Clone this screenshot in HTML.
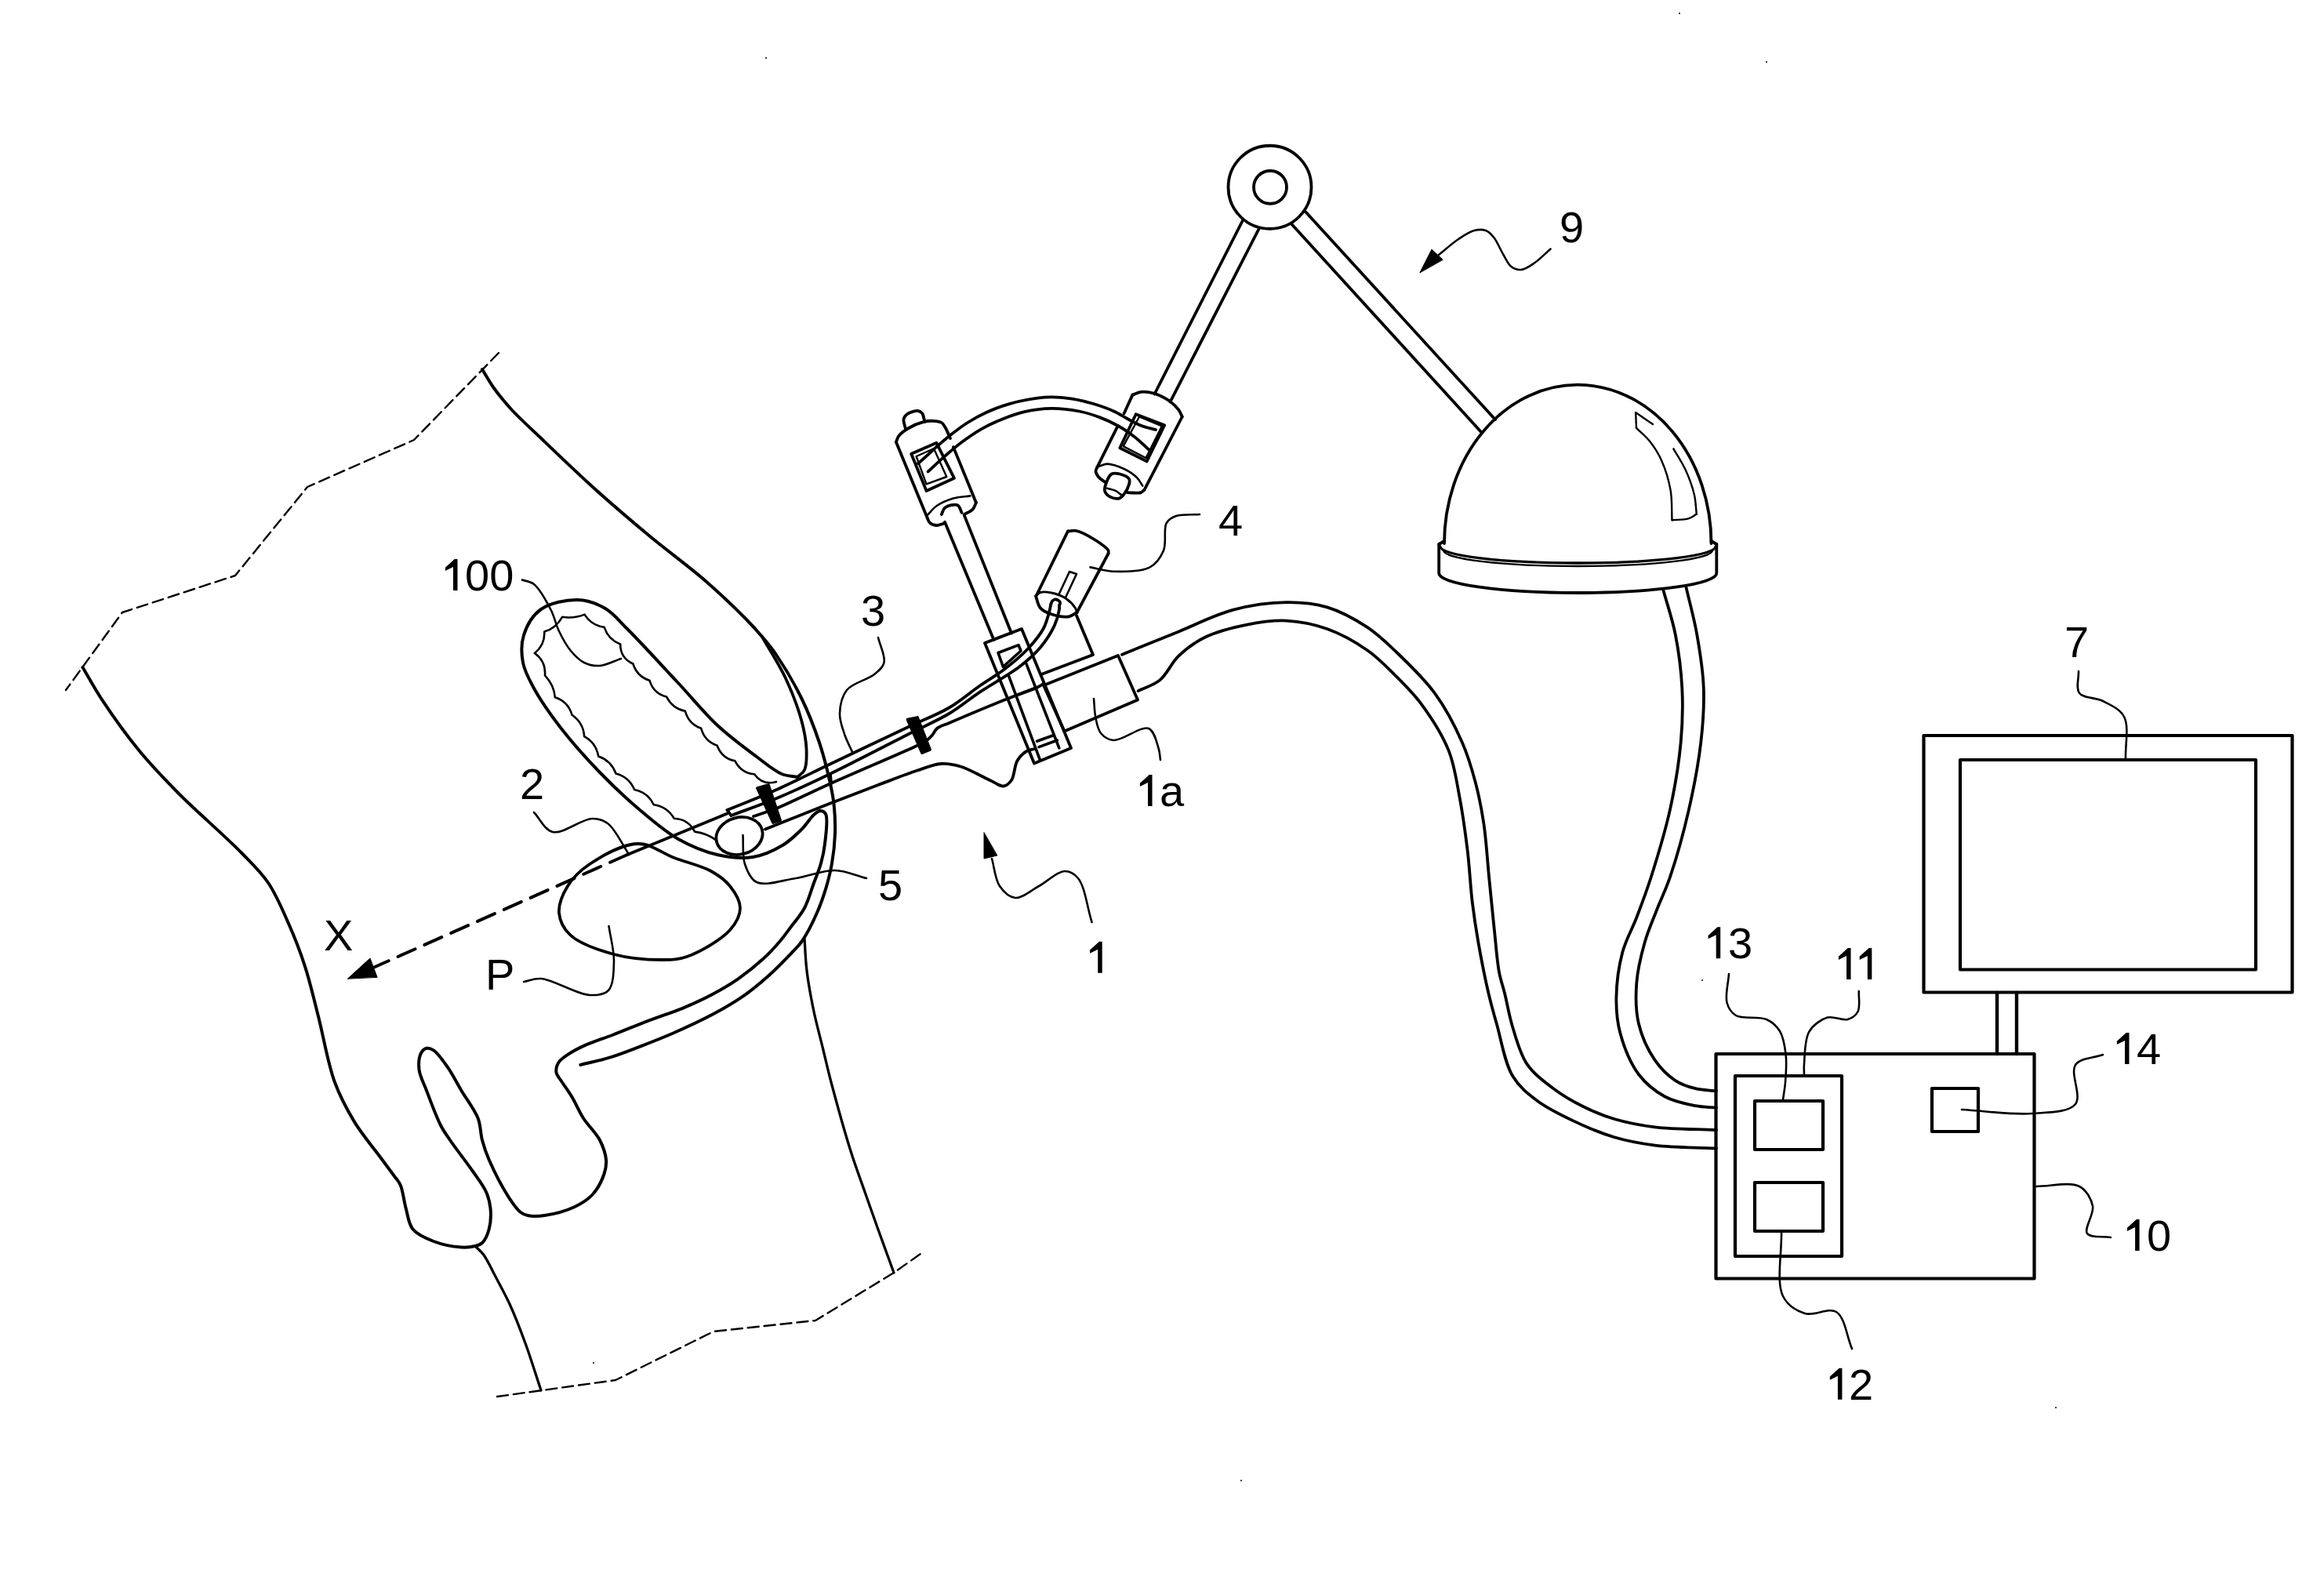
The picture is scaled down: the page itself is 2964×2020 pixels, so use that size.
<!DOCTYPE html>
<html><head><meta charset="utf-8"><style>
html,body{margin:0;padding:0;background:#fff;width:2964px;height:2020px;overflow:hidden}
svg{display:block}
text{font-family:"Liberation Sans",sans-serif;fill:#000;stroke:none}
</style></head><body>
<svg xmlns="http://www.w3.org/2000/svg" width="2964" height="2020" viewBox="0 0 2964 2020">
<g fill="none" stroke="#000" stroke-linecap="round" stroke-linejoin="round">
<path d="M636 450 L528 561 L392 621 L300 734 L156 781 L84 880" stroke-width="2.4" stroke-dasharray="14 7"/>
<path d="M634 1781 L785 1760 L910 1698 L1040 1684 L1140 1623 L1174 1599" stroke-width="2.4" stroke-dasharray="14 7"/>
<path d="M615 471C620 479 624.2 486.9 630 495C636.6 504.2 644.3 513.5 653 523C663 533.8 673.6 543.2 687 556C706.1 574.3 733.3 600.6 757 622C780.6 643.3 804.9 664 829 684C852.6 703.6 878.5 722.3 900 741C919 757.6 938.9 776.7 952 790C960.4 798.6 965.6 804.5 972 812C978.3 819.5 983.5 825.4 990 835C999.6 849.2 1012.8 871.2 1022 890C1031.1 908.5 1038.8 928.6 1045 947C1050.5 963.5 1054.8 980.8 1058 995C1060.5 1006.1 1062.3 1014.4 1063.5 1025C1064.8 1036.9 1065.4 1050.3 1065 1063C1064.6 1075.7 1063.1 1089 1061 1101C1059.1 1112.1 1056.5 1122.2 1053.4 1132.6C1050.2 1143.2 1046.7 1153.3 1042 1164C1036.8 1175.8 1028.9 1191.4 1023 1200C1019.3 1205.5 1016.9 1207.3 1012.3 1212.3C1004.5 1220.6 991 1234.6 980 1244.5C969.5 1253.9 959.3 1262.4 947.8 1270.4C935.7 1278.8 923 1286.1 909 1293.6C893.2 1302 873.6 1311 857.5 1318C843.7 1324 831.7 1328.6 818.7 1333.6C805.8 1338.5 793.1 1343.7 780 1347.8C767 1351.9 753.6 1354.6 740.4 1358" stroke-width="4"/>
<path d="M972 812C982 829.7 993.6 847 1002 865C1010.1 882.4 1017.5 901.7 1022 918C1025.6 931.3 1028 943.6 1028.5 955C1028.9 964.7 1028.9 975.7 1026 982C1024 986.3 1020 988 1017 991" stroke-width="3.8"/>
<path d="M1017 991C1010.3 989.7 1004.1 990 997 987C987.2 982.9 976.7 973.7 965 965C950 953.9 931.1 940 915 925C897.7 908.9 882.8 890.1 865 871C844.8 849.4 817.4 819.3 800 802C788.9 791 782.6 782.2 772 776C761.6 769.9 749.6 765.3 737 765C722.5 764.6 701.7 768.7 690 777C679.4 784.5 671.7 798.3 668 810C664.5 821 664.9 833.9 667 845C669 855.9 673.9 864.7 680 876C688.3 891.5 701.7 910.7 715 928C729.7 947 747.9 967.3 765 985C781.3 1001.8 797.9 1017.6 815 1032C831.3 1045.8 847.6 1060.2 865 1070C881.1 1079.1 898.5 1086.2 915 1090C930.1 1093.4 945.9 1095.2 960 1093C973.5 1090.9 987.1 1084.5 998 1078C1007.7 1072.2 1016 1064 1023 1057C1028.9 1051 1033.5 1042.9 1038 1039C1040.9 1036.5 1043.4 1034.1 1046 1034C1048.4 1034 1051.5 1035.2 1053 1038C1056.4 1044 1053.3 1064.7 1052 1076C1051 1085.3 1049.3 1092.8 1047 1101C1044.7 1109.4 1041.2 1117.2 1038 1126C1034.3 1136 1031.2 1148.3 1026 1158C1021.1 1167.2 1013.6 1175.5 1008 1183C1003.4 1189.2 1000.1 1194.1 995 1200C988.9 1207.2 981.8 1215.1 973.6 1222.6C964.2 1231.2 952.4 1240.7 941.4 1248.4C930.9 1255.7 920.5 1261.7 909.1 1267.8C896.9 1274.3 883.7 1280.3 870.4 1285.8C856.7 1291.5 842.3 1295.8 827.8 1301.3C812.5 1307.1 795.3 1314.5 781 1320C768.9 1324.6 757.5 1327.9 747.5 1332.4C739 1336.2 730.8 1340.4 724.5 1344.7C719.5 1348.1 714.5 1351.2 712 1355.4C709.9 1359 708.9 1363.9 709.5 1367.7C710.1 1371.5 713.1 1374.2 715.7 1378.3C719.4 1384.2 725.3 1391.9 729.8 1399.5C734.7 1407.7 738.4 1417.3 744 1426C750 1435.4 760.1 1444.5 765 1454C769.2 1462.2 772.3 1471.3 773 1479C773.6 1485.4 772.6 1490.7 770.5 1497C767.8 1505.1 762.4 1515.9 756 1523C749.8 1529.8 742.1 1534.7 733 1539C722.2 1544.1 705.6 1548.4 694.5 1550C686.4 1551.1 678.5 1551.2 673 1550C669.3 1549.2 667 1548.3 664 1546C659.4 1542.5 655 1536.2 650 1528.6C642.1 1516.6 629.8 1492.9 623.7 1479C619.5 1469.4 617.3 1462.7 615 1454C612.6 1445 613.3 1435.5 609.6 1426C605.2 1414.5 595.1 1402 588.4 1390.7C582.2 1380.3 577 1369.6 570.7 1360.7C565.1 1352.7 558.4 1343 553 1339.4C549.8 1337.3 546.7 1336.2 544 1336.8C541.3 1337.4 538.6 1339.9 537 1343C534.6 1347.7 533.7 1356.7 534.5 1364C535.5 1372.5 540.2 1380.7 544 1390.7C548.9 1403.7 556.1 1423.5 562 1435C566 1442.9 569 1446.6 574 1454C581.3 1464.8 594.3 1481.1 602.5 1493C609.2 1502.7 616.1 1511.3 620 1520C623.2 1527.2 624.8 1533.5 625.5 1541C626.3 1549.3 625.8 1559.8 623.7 1567.5C621.9 1574.1 618.7 1581.5 615 1585C612.4 1587.5 609.6 1588.1 606 1589C601.1 1590.3 595 1590.9 588 1590.5C578.2 1589.9 563.6 1587.1 553 1583C543.2 1579.2 532.4 1574.8 526.5 1567.5C520.9 1560.6 520.3 1550.2 517.7 1541C515 1531.4 513.9 1518.3 510.6 1511C508.5 1506.2 506.1 1504.3 503 1500C498.5 1493.7 492.6 1486 486 1477C476.6 1464.2 461.9 1446.9 452 1430.6C442.2 1414.5 434 1399.3 426.8 1379.8C417.9 1355.5 412.5 1321.2 405.7 1295C399.9 1272.4 395.4 1252 388.8 1231.8C382.6 1212.7 375.5 1194.6 367.6 1176.8C359.9 1159.3 352.4 1141.1 342.2 1126C332.5 1111.7 322.5 1102.5 308.4 1088C287.7 1066.6 251.4 1035.7 228 1012C208.8 992.5 193.3 976.5 177.3 957C160.9 937 143.6 912.7 130.8 893.4C120.6 878.1 113.9 865.1 105.4 851" stroke-width="4"/>
<path d="M606 1589C609.6 1592.7 613.1 1595.2 616.7 1600C621.8 1606.9 626.8 1618.1 632 1628C637.8 1639 644.1 1650.1 650 1663C656.9 1678 663.6 1695.5 670 1713C677 1732 683.3 1753 690 1773" stroke-width="3.3"/>
<path d="M1026 1197C1027 1210.7 1027.2 1223.6 1029 1238C1031 1254.4 1034.5 1273.3 1038 1290C1041.3 1305.6 1045.3 1320 1049 1335C1052.7 1350 1055.4 1362.6 1060 1380C1066.5 1404.5 1077 1442.6 1085 1468C1091.2 1487.7 1097.1 1503 1103 1520C1108.7 1536.3 1114.1 1551.5 1120 1568C1126.4 1585.7 1133.3 1604.7 1140 1623" stroke-width="3.3"/>
<path d="M814 1076C830.4 1075.8 844.5 1088.2 860 1094C875.5 1099.9 894.4 1104 907 1111C916.9 1116.5 924.8 1122.2 931 1130C937.2 1137.8 944 1148.7 944 1158C944 1167.3 938.7 1177.3 931 1186C919.8 1198.6 892.3 1214.2 876 1220C864.7 1224 857.1 1223.9 845 1224C827.9 1224.1 802.7 1222.4 783 1217C763.4 1211.7 738.6 1203.1 727 1192C718.7 1184.1 713.8 1173.9 713 1164C712.2 1153.4 717.8 1140.1 724 1130C730.5 1119.3 739.8 1110.2 752 1102C767.9 1091.4 794.8 1076.2 814 1076Z" stroke-width="3.8"/>
<path d="M990 997Q972.4 1001.9 962.1 987.3Q945.1 985.6 937.4 970.3Q920.5 967.1 914.7 950.7Q898.6 945.2 894.2 928.8Q878.2 923.1 873.9 906.8Q857.9 903.7 850.1 888.6Q833.4 884.2 828.5 867.8Q812.4 862.7 807.4 846.5Q791 839 791.2 821.5Q775.9 815.6 770.6 799.8Q754.3 797.5 745.5 783.6Q732 789.1 717.1 786.8Q709.1 801 694.3 805.6Q695.1 822.3 682 833" stroke-width="2.6"/>
<path d="M682 833Q696.4 843.3 695 861.4Q706.5 873.4 707.9 889.3Q724.5 894.7 729.6 911.8Q744.2 922.1 745.1 939Q760.4 947.4 763.2 964.5Q779.5 970.1 785.5 986.5Q802.4 990.9 809.1 1007Q826.2 1010.5 833.8 1026.2Q851.1 1028.7 859.8 1043.8Q877.7 1044.6 886.1 1060.6Q902.4 1062.8 914 1072" stroke-width="2.6"/>
<ellipse cx="943" cy="1066" rx="30" ry="23.5" transform="rotate(-15 943 1066)" stroke-width="3.8"/>
<path d="M927.5 1033C947 1025 965.7 1018 986 1009C1008.8 998.9 1031.7 987.3 1057.5 975C1088 960.5 1129.4 940.8 1157.5 927.5C1177.9 917.8 1194.5 911.9 1210.5 902.5C1225.1 893.9 1237.6 882.7 1250 874.2C1260.7 866.8 1270.4 861.5 1280.3 854C1290.7 846.1 1301.9 836.9 1310.6 827.7C1318.5 819.3 1326 810.5 1330.8 801.5C1335 793.5 1337.6 782.4 1339 777C1339.7 774.4 1339.7 773 1340 771" stroke-width="3.8"/>
<path d="M932.5 1040C951.2 1032.9 969.2 1026.9 988.8 1018.8C1010.7 1009.6 1032.4 999.6 1057.5 987.5C1088.6 972.5 1132.8 949.3 1161 935C1180.5 925.1 1195.2 919.1 1210.5 910C1224.7 901.5 1235.9 891.7 1250 882.3C1265.7 871.8 1286.8 860.6 1300.5 850C1311.1 841.8 1319.3 834.6 1326.8 825.7C1334.1 817 1340.9 806.3 1345 797.4C1348.3 790.3 1350.3 781.5 1351 777C1351.3 774.8 1351 773.7 1351 772" stroke-width="3.8"/>
<path d="M927.5 1033 L932.5 1040" stroke-width="3.8"/>
<path d="M1059 988 L1060 999" stroke-width="3.8"/>
<path d="M1340 772C1340.7 770.2 1340.8 767.8 1342 766.5C1343.2 765.3 1345.4 764.3 1347 764.5C1348.7 764.7 1351.4 766.5 1352 768C1352.6 769.4 1351.3 771.3 1351 773" stroke-width="3.8"/>
<path d="M961 1041C966 1039.3 970.9 1037.8 976 1036C981.4 1034.1 985.3 1033 992.5 1030C1007.1 1024 1032.9 1011.1 1057.5 1000C1089.6 985.6 1150.3 960 1168.8 951.2C1174.9 948.3 1177.5 947.5 1181 945C1184.1 942.8 1186.6 940.2 1189 937.5C1191.3 934.9 1192.1 931.4 1195 929C1198.7 925.9 1203.4 925.1 1210.5 922C1226 915.3 1264.6 899.1 1285 891C1299.1 885.4 1312.8 881.3 1321 877.5C1325.5 875.4 1327.7 873.8 1331 872" stroke-width="3.8"/>
<path d="M976 1057.5C1003.2 1046.7 1032.1 1034.9 1057.5 1025C1079.7 1016.3 1100.3 1008.4 1120 1001C1137.6 994.4 1155.4 987.3 1170 982.5C1181.2 978.9 1190.4 974.7 1200 974C1208.6 973.4 1216 974.8 1225 977.5C1236.5 980.9 1252.3 990.4 1262.5 995C1269.4 998.1 1275.1 1003.1 1280 1002.5C1284 1002 1287.3 998.8 1290 995C1293.9 989.5 1293.6 976.5 1297.5 970C1300.7 964.6 1305.7 959.9 1310 957.5C1313.3 955.6 1316.7 955.8 1320 955" stroke-width="3.8"/>
<path d="M927.5 1037.5 L800 1090" stroke-width="3.8"/>
<path d="M800 1090 L476 1234" stroke-width="4" stroke-dasharray="24 13"/>
<path d="M443.5 1248 L472 1222 L481 1246Z" stroke-width="1" fill="#000"/>
<path d="M966 1005 L980 1001 L995 1046 L986 1049Z" stroke-width="3.8" fill="#000" stroke-linejoin="round"/>
<path d="M1157.5 917.5 L1170 915 L1186 956 L1176 960Z" stroke-width="3.8" fill="#000" stroke-linejoin="round"/>
<path d="M1331 874 L1426 836 L1451 892.5 L1357.5 932.5Z" stroke-width="3.8"/>
<path d="M1373 785 L1394 835 L1328 860" stroke-width="3.8"/>
<path d="M1256 820 L1303 802 L1366 954 L1319 973.5Z" stroke-width="3.8"/>
<path d="M1273 832.5 L1299 822.6 L1302 830 L1279.4 850.3Z" stroke-width="3.6"/>
<path d="M1286.8 862.7 L1326.2 968.6" stroke-width="3.6"/>
<path d="M1309 846.7 L1350.8 953.8" stroke-width="3.6"/>
<path d="M1297.9 886 L1320 877.4" stroke-width="3.6"/>
<path d="M1322.5 945.2 L1343.4 937.8" stroke-width="3.6"/>
<path d="M1325 952.6 L1348.4 944" stroke-width="3.6"/>
<path d="M1431 834.7C1455.1 824.9 1479.5 815 1503.3 805.4C1526.5 796.1 1548.8 784.1 1572.1 777.9C1594.7 771.9 1619.7 768.4 1641 768.2C1659.4 768 1675.8 769.4 1692.6 774.4C1710.3 779.7 1729.2 790.3 1744.2 800.2C1757.5 809 1766.4 817.8 1778.7 829.5C1794.6 844.6 1815.8 864.7 1830.3 884.6C1844.3 903.8 1855.9 926.4 1864.7 946.5C1872.5 964.1 1877.3 980.8 1881.9 998.2C1886.4 1015.3 1889.5 1031.3 1892.3 1049.8C1895.5 1071 1896.8 1095.7 1899.1 1118.7C1901.4 1141.6 1903.7 1166.1 1906 1187.5C1908 1206.2 1909.3 1225.5 1912 1240C1914 1250.4 1916.5 1256.5 1919 1266.5C1922.2 1279.3 1924.8 1295.8 1929.4 1310.5C1934.2 1326 1938.7 1344 1947.6 1357.1C1956.2 1369.7 1969.1 1379.1 1981.2 1388.2C1993.2 1397.2 2006.8 1405 2020 1411.5C2032.7 1417.8 2044.8 1422.8 2058.9 1427C2074.7 1431.7 2091.5 1435 2110.6 1437.3C2133.9 1440.2 2162.9 1439.8 2189 1441" stroke-width="3.8"/>
<path d="M1451.6 881.1C1460.8 876.5 1471 874.1 1479.2 867.4C1488.5 859.8 1493.8 845.5 1503.3 836.4C1513.2 827 1524.5 818.7 1537.7 812.3C1552.7 805 1571.9 800.3 1589.3 796.8C1606.4 793.4 1623.8 790.8 1641 791.6C1658.3 792.5 1675.8 796 1692.6 802C1710.3 808.3 1729.3 819 1744.2 829.5C1757.5 838.8 1767.5 849.4 1778.7 860.5C1790.5 872.2 1802.3 883.7 1813.1 898.3C1825.5 915.2 1839.4 936.7 1847.5 956.9C1855.1 975.9 1857.4 995 1861.3 1015.4C1865.5 1037.3 1868.8 1061.5 1871.6 1084.2C1874.3 1106.3 1875.2 1129.4 1877.7 1150C1879.9 1168.3 1882.2 1183.6 1885.4 1201.8C1889 1222.2 1894 1247.7 1898.4 1266.5C1901.8 1281.1 1904.5 1290.6 1908.7 1305.3C1914.3 1324.7 1919 1355.4 1929.4 1372.6C1937.6 1386.2 1948.4 1394.5 1960.5 1403.7C1973.9 1413.8 1990.9 1421.9 2007.1 1429.6C2023.7 1437.5 2041.4 1445.1 2058.9 1450.3C2075.9 1455.3 2091.5 1458.2 2110.6 1460.6C2133.9 1463.5 2162.9 1463.2 2189 1464.5" stroke-width="3.8"/>
<circle cx="1619.5" cy="238.75" r="53" stroke-width="3.8"/>
<circle cx="1620" cy="238.75" r="21" stroke-width="3.8"/>
<path d="M1585 281 L1472.5 502.5" stroke-width="3.8"/>
<path d="M1606 291 L1492.5 512.5" stroke-width="3.8"/>
<path d="M1665 270 L1907 535" stroke-width="3.8"/>
<path d="M1647.5 286 L1890 552" stroke-width="3.8"/>
<path d="M1433.6 527.2 L1444.4 503.6" stroke-width="3.8"/>
<path d="M1444.4 503.6C1448 502.3 1451.1 500.3 1455.1 499.8C1459.9 499.2 1465.6 499.9 1471.2 501.5C1478 503.5 1487 508.1 1492.7 512.2C1497.2 515.4 1500.8 519.3 1503.4 522.9C1505.5 525.8 1506.3 528.6 1507.7 531.5" stroke-width="3.8"/>
<path d="M1507.7 531.5 L1459.4 624.8" stroke-width="3.8"/>
<path d="M1425 544.4 L1399.3 595.9" stroke-width="3.8"/>
<path d="M1399.3 595.9C1398.7 597.6 1397.4 599.1 1397.5 601C1397.7 603.4 1399.6 606.5 1401.5 608.8C1403.6 611.3 1407.2 613.1 1410 615.2" stroke-width="3.8"/>
<path d="M1437.9 628.1C1440.6 628.2 1443.2 628.5 1446 628.5C1448.9 628.5 1452.7 629 1455.1 628.1C1456.9 627.4 1458 625.9 1459.4 624.8" stroke-width="3.8"/>
<path d="M1401.5 594.8C1405.1 593.7 1408 591.6 1412.2 591.6C1418.1 591.6 1427.2 595 1433.6 598C1439.6 600.8 1445.6 604.8 1449.7 608.8C1453.1 612.1 1454.8 615.9 1457.3 619.5" stroke-width="2.6"/>
<path d="M1411.1 615.2C1412.5 611.5 1414.6 606.2 1417.6 604.5C1420.4 602.9 1424.8 603.6 1428.3 604.5C1432.3 605.5 1438.5 608.2 1440.1 610.9C1441.2 612.8 1440.7 614.9 1440.1 617.3C1439.2 620.9 1436.1 627 1433.6 630.2C1431.7 632.6 1429.9 634.9 1427.2 635.6C1424 636.4 1418.5 635.2 1415.4 633.4C1412.6 631.8 1409.8 628.8 1409 625.9C1408.2 622.8 1409.8 618.7 1411.1 615.2Z" stroke-width="3.8"/>
<path d="M1412.2 622.7C1415.8 623.8 1419.8 624.4 1422.9 625.9C1425.8 627.3 1427.9 629.5 1430.4 631.3" stroke-width="2.6"/>
<path d="M1448.7 528.3 L1485.2 542.2 L1462.6 588.4 L1428.3 571.2Z" stroke-width="3.8"/>
<path d="M1453 531.5 L1481.9 543.3 L1461.5 584.1 L1432.6 569.1Z" stroke-width="2.4"/>
<path d="M1154.7 546C1154 542.2 1151.9 537.8 1152.5 534.7C1153 532.1 1154.5 530 1156.8 528.3C1159.9 526 1167.3 523.6 1170.8 524C1173.1 524.3 1174.8 525.4 1176.2 527.2C1178 529.6 1178.3 534.4 1179.4 538" stroke-width="3.8"/>
<path d="M1142.9 563.7C1144 561.2 1144.3 558.6 1146.1 556.2C1148.6 552.9 1153.2 549.3 1157.9 546.5C1163.6 543.1 1172.3 539.4 1178.3 537.9C1182.7 536.8 1186.3 536.6 1190.1 536.8C1193.8 537 1198.3 537.4 1200.9 539C1202.9 540.3 1203.8 542.3 1205.1 544.4C1206.7 546.8 1208 550.1 1209.4 552.9" stroke-width="3.8"/>
<path d="M1142.9 563.7 L1182.6 660.3" stroke-width="3.8"/>
<path d="M1215.9 570.1 L1244.9 641" stroke-width="3.8"/>
<path d="M1209.4 552.9 L1212 559" stroke-width="3.8"/>
<path d="M1182.6 660.3C1183.7 662.4 1184 665.1 1185.8 666.7C1187.8 668.5 1191.5 669.8 1194.4 670C1197.2 670.2 1200.1 668.5 1203 667.8" stroke-width="3.8"/>
<path d="M1229.8 656C1233.4 653.9 1238 652.3 1240.6 649.6C1242.8 647.2 1243.5 643.9 1244.9 641" stroke-width="3.8"/>
<path d="M1182.6 657.1C1186.5 653.2 1189.5 648.7 1194.4 645.3C1200.2 641.3 1208.6 637.8 1215.9 635.6C1222.9 633.5 1230.2 633.5 1237.4 632.4" stroke-width="2.6"/>
<path d="M1200.9 656C1202.3 653.1 1202.5 649.4 1205.1 647.4C1208.5 644.8 1217.7 642.5 1221.3 644.2C1224.3 645.6 1224.8 650.7 1226.6 653.9" stroke-width="3.8"/>
<path d="M1162.2 578.7 L1194.4 564.8 L1217 609.8 L1181.5 625.9Z" stroke-width="3.8"/>
<path d="M1168.6 582 L1191 572 L1207.3 608 L1181.5 617.4Z" stroke-width="2.4"/>
<path d="M1205 665.7 L1267.5 816" stroke-width="3.8"/>
<path d="M1229.8 657.1 L1290 807.5" stroke-width="3.8"/>
<path d="M1171 591C1174 588.3 1176.7 586 1180 583C1184.2 579.2 1189.2 574.4 1194.3 570C1199.8 565.1 1205.7 559.9 1212 555C1218.7 549.8 1225.7 544.3 1233.2 539.5C1241 534.6 1249.1 530 1257.9 526C1267.3 521.7 1277.4 517.8 1288 514.8C1299.2 511.6 1313.6 509.1 1323.4 507.7C1330.2 506.7 1334.5 506.3 1341 506.3C1348.9 506.3 1358.7 507.2 1367.5 508.6C1376.4 510 1385.2 512.2 1394 514.8C1402.9 517.5 1412.8 520.9 1420.6 524.5C1427.2 527.5 1432.4 531.1 1438.3 534.2C1444.2 537.3 1450 540.7 1456 543C1461.9 545.3 1468 546.3 1474 548" stroke-width="3.8"/>
<path d="M1183.6 601.4C1190.7 594.9 1197.7 588.2 1204.9 581.9C1211.9 575.8 1218.5 570 1226.1 564.3C1234.3 558.2 1243.6 551.7 1252.6 546.6C1261.3 541.7 1270.2 537.8 1279.1 534.2C1287.8 530.7 1296 527.6 1305.6 525.4C1316.4 522.9 1329.2 521 1341 520.9C1352.8 520.8 1365.5 522.4 1376.4 524.5C1386 526.4 1394.5 529.2 1402.9 532.4C1411 535.4 1418.5 538.9 1425.9 543C1433.3 547.1 1440.5 552.1 1447.1 557.2C1453.5 562.1 1458.9 567.8 1464.8 573.1" stroke-width="3.8"/>
<path d="M1362 677.4C1365.6 677.3 1368.7 676.1 1372.8 677C1379.2 678.3 1388.9 683.7 1395.8 688C1402.3 692.1 1411.8 698.4 1413.5 702C1414.2 703.5 1413.5 704.7 1413.5 706" stroke-width="3.8"/>
<path d="M1362 677.4 L1322 759" stroke-width="3.8"/>
<path d="M1413.5 706 L1373.5 781" stroke-width="3.8"/>
<path d="M1321 760C1322.9 765.1 1323.5 771.3 1326.8 775.2C1330.1 779.1 1335.5 781.5 1341 783.3C1347.4 785.5 1357.3 787.3 1363.2 786.3C1367.4 785.6 1370.1 782.8 1373.5 781" stroke-width="3.8"/>
<path d="M1321 760C1322.9 758.5 1324.3 756.3 1326.8 755.5C1330.3 754.4 1336.1 755 1341 756C1346.8 757.2 1354 759.6 1359.1 763C1364 766.2 1369 771.7 1371.3 775.2C1372.7 777.3 1372.8 779.1 1373.5 781" stroke-width="2.9"/>
<path d="M1350 759 L1364 729 L1373 732 L1359 762" stroke-width="2.6"/>
<path d="M1842 693 A170 202 0 0 1 2182.5 693" stroke-width="3.8"/>
<path d="M1835.2 694 L1835.2 731 A177 25 0 0 0 2189.3 731 L2189.3 694" stroke-width="3.8"/>
<path d="M1837 697 A175.5 21 0 0 0 2188 697" stroke-width="3.3"/>
<path d="M1841 702 A171.5 20 0 0 0 2184 702" stroke-width="2.4"/>
<path d="M1835.2 694 L1842 690" stroke-width="3.8"/>
<path d="M2189.3 694 L2182.5 690" stroke-width="3.8"/>
<path d="M2107.9 541 L2086.1 525.9 L2087 545.8" stroke-width="2.4"/>
<path d="M2087 545.8C2092.7 551.5 2098.9 556.3 2104.1 562.8C2109.8 570 2115 578 2119.2 587.4C2124.1 598.4 2128.4 612.5 2130.6 625.3C2132.8 637.8 2131.9 650.6 2132.5 663.2" stroke-width="2.4"/>
<path d="M2132.5 663.2C2139.4 662.6 2147.7 663 2153.3 661.3C2157.6 660 2160.3 657.5 2163.8 655.6" stroke-width="2.4"/>
<path d="M2163.8 655.6C2162.8 647.4 2162.9 639.6 2160.9 631C2158.5 620.9 2154.1 608.8 2149.5 598.8C2145.2 589.3 2139.4 581.1 2134.4 572.3" stroke-width="2.4"/>
<path d="M2121.2 752C2126.4 770.9 2132.7 788.8 2136.7 808.8C2141 830.5 2144.1 854.7 2145.3 877.7C2146.5 900.6 2145.9 922.4 2143.7 946.5C2141.2 973.7 2136.2 1004.1 2129.9 1032.6C2123.5 1061.5 2113.6 1093.8 2105.7 1118.7C2099.5 1138.1 2093.6 1153.5 2087.3 1170C2081.4 1185.5 2073.5 1198.4 2069.2 1214.7C2064.4 1232.9 2061.5 1255.9 2061.4 1274.3C2061.3 1290.1 2062.5 1303.4 2066.6 1318.3C2071.3 1335.2 2079.5 1356.2 2089.9 1370C2099.1 1382.2 2111.1 1391.8 2123.5 1398.5C2135.4 1405 2150.6 1407.9 2162.4 1410.2C2172 1412.1 2180.1 1411.9 2189 1412.7" stroke-width="3.8"/>
<path d="M2150.4 748.6C2155 768.7 2160.5 788 2164.2 808.8C2168.1 830.9 2172 854.7 2172.8 877.7C2173.6 900.6 2172.1 922.4 2169.3 946.5C2166.2 973.7 2160.4 1004.1 2153.9 1032.6C2147.3 1061.5 2137.8 1095.4 2129.9 1118.7C2124.3 1135.2 2118.6 1146.2 2113.2 1160C2107.8 1173.9 2101.9 1187 2097.7 1201.8C2093.1 1218 2088.6 1236.2 2087.3 1253.5C2086 1270.7 2086 1288.8 2089.9 1305.3C2093.8 1321.6 2101.9 1339.3 2110.6 1351.9C2118 1362.6 2127.2 1371.7 2136.5 1377.8C2144.6 1383.2 2153.6 1386 2162.4 1388.2C2171.1 1390.4 2180.1 1390.3 2189 1391.3" stroke-width="3.8"/>
<rect x="2453.5" y="938" width="470" height="327.5" stroke-width="4.2"/>
<rect x="2500" y="969" width="377" height="267.5" stroke-width="4.2"/>
<path d="M2547 1266 L2547 1344" stroke-width="4.4"/>
<path d="M2572 1266 L2572 1344" stroke-width="4.4"/>
<rect x="2188.5" y="1344" width="406" height="286.5" stroke-width="4.2"/>
<rect x="2213" y="1372" width="136" height="230" stroke-width="4.2"/>
<rect x="2238" y="1404" width="87" height="62" stroke-width="4.2"/>
<rect x="2238" y="1508" width="87" height="62" stroke-width="4.2"/>
<rect x="2464" y="1388" width="59" height="55" stroke-width="4.2"/>
<path d="M666 739.5C671 741.3 676.2 741.2 681 745C688.6 751 697 766.8 702.5 777.5C707.3 786.8 708.7 796.2 713 805C717.2 813.7 722.2 823.1 728 830C733.1 836.1 738.6 841.8 745 845C751 848 757.9 849.4 765 849C773.4 848.5 783 843 792 840" stroke-width="2.6"/>
<path d="M1120 813C1122.5 823.7 1129.5 836.7 1127.5 845C1126 851.4 1120.8 855.1 1115 860C1106.7 867 1087.3 870.8 1080 880C1073.6 888.1 1071.3 900.2 1071 910C1070.7 919.3 1074.6 928.9 1077.5 937.5C1080.2 945.5 1084.2 952.5 1087.5 960" stroke-width="2.6"/>
<path d="M681 1036C689 1044.3 694.5 1058.5 705 1061C717.9 1064.1 742.1 1044.2 755 1044C763.1 1043.9 768.6 1045.3 775 1050C784.8 1057.1 793.3 1076.7 802.5 1090" stroke-width="2.6"/>
<path d="M947.5 1065C948.3 1077.3 946.5 1091.5 950 1102C953 1111 956.9 1121.1 965 1125C976 1130.3 998.4 1122.5 1015 1120C1031.7 1117.5 1049.3 1109.6 1065 1110C1079.1 1110.3 1091.7 1116.7 1105 1120" stroke-width="2.6"/>
<path d="M668 1252C675.3 1250.7 680.9 1247.3 690 1248C705.5 1249.1 736.1 1268.3 752 1269C761.8 1269.4 770.7 1268.6 776 1263C782.5 1256.1 782.7 1239 783 1226C783.3 1211.8 778.7 1196 776.5 1181" stroke-width="2.6"/>
<path d="M1390.5 723.4C1400.5 725.2 1409.5 728.4 1420.6 728.7C1434.3 729.1 1455.6 729.4 1466.5 723.4C1475 718.8 1480.4 710.6 1484 702C1488.1 692.3 1483.5 674.4 1487.7 667C1490.5 662.1 1494.6 659.9 1500 658C1507.5 655.3 1520 656.7 1530 656" stroke-width="2.6"/>
<path d="M1395 891C1395.8 899.3 1395.8 908.3 1397.5 916C1399 922.9 1400.1 930.3 1404 935C1407.7 939.5 1413.1 943.3 1420 944C1431 945.1 1455.4 925 1465 929C1472.4 932 1475.1 946.6 1477.5 954C1479.3 959.5 1479.2 964 1480 969" stroke-width="2.6"/>
<path d="M1265 1095C1268.3 1106.7 1269.1 1121.4 1275 1130C1279.9 1137.1 1287.4 1144.3 1295 1145C1303.8 1145.8 1314.9 1135.5 1325 1130C1335.7 1124.2 1348.3 1111.2 1357.5 1111C1364.2 1110.8 1370.1 1114.1 1375 1120C1383.5 1130.1 1386.7 1157.3 1392.5 1176" stroke-width="2.6"/>
<path d="M1255 1062 L1255 1095 L1271.5 1091Z" stroke-width="1" fill="#000"/>
<path d="M1835 325C1843.3 318.3 1851.9 310.4 1860 305C1866.8 300.4 1873.6 295.6 1880 294C1885.2 292.7 1890.7 292.4 1895 294C1899 295.5 1901.8 298.6 1905 302.5C1909.5 307.9 1913.4 318.3 1917.5 325C1920.9 330.6 1923.3 336.9 1927.5 340C1931.1 342.7 1935.6 344.4 1940 344C1945.4 343.6 1951.7 338.9 1957.5 335C1964.2 330.4 1970.8 323.3 1977.5 317.5" stroke-width="2.6"/>
<path d="M1811 347.5 L1826 318 L1840 331Z" stroke-width="1" fill="#000"/>
<path d="M2651 856C2651.3 865.3 2647.3 877.7 2652 884C2657 890.7 2672.6 889.1 2682 894C2691.7 899 2703.7 904 2709 914C2715.7 926.7 2710.3 950 2711 968" stroke-width="2.6"/>
<path d="M2205 1242C2204.2 1254.3 2199.9 1269.6 2202.6 1279C2204.6 1285.9 2208 1291.4 2214 1295C2222.5 1300.1 2243.1 1295.5 2253 1300C2260.5 1303.4 2265.9 1308.4 2270 1315C2274.7 1322.8 2276.4 1334.5 2277.6 1345C2278.9 1356.1 2277.8 1369.5 2277 1380C2276.3 1388.8 2274.8 1396 2273.7 1404" stroke-width="2.6"/>
<path d="M2370.8 1264C2370.4 1272.7 2372.7 1283.8 2369.5 1290C2366.9 1294.9 2362 1298.4 2356.6 1300C2349.8 1302 2338.7 1295.3 2330.7 1297.6C2322.2 1300.1 2312.4 1307.1 2307.4 1315.7C2301.4 1325.9 2301.8 1346.6 2301 1357C2300.5 1363.2 2301 1367 2301 1372" stroke-width="2.6"/>
<path d="M2502 1415C2532 1416.7 2565.8 1422.1 2592 1420C2612.7 1418.3 2638.1 1419 2647 1408C2655.4 1397.6 2639.8 1368.4 2647 1358C2653.3 1349 2670.3 1349.3 2682 1345" stroke-width="2.6"/>
<path d="M2597 1513C2615.3 1513 2639.8 1506.5 2652 1513C2661 1517.8 2667.1 1528.5 2669 1538C2671.1 1548.3 2657.5 1566.5 2662 1573C2666.2 1579 2682 1576.3 2692 1578" stroke-width="2.6"/>
<path d="M2272 1570C2272.7 1597.7 2265.1 1635.3 2274 1653C2279.8 1664.6 2291.1 1671.5 2302 1675C2313.6 1678.7 2332.2 1666.8 2342 1673C2353.1 1680 2355.3 1704.3 2362 1720" stroke-width="2.6"/>
<circle cx="977" cy="74" r="1" fill="#000" stroke="none"/>
<circle cx="2142" cy="17" r="1" fill="#000" stroke="none"/>
<circle cx="2253" cy="79" r="1" fill="#000" stroke="none"/>
<circle cx="2171" cy="1250" r="1" fill="#000" stroke="none"/>
<circle cx="757" cy="1738" r="1" fill="#000" stroke="none"/>
<circle cx="1583" cy="1888" r="1" fill="#000" stroke="none"/>
<circle cx="2622" cy="1795" r="1" fill="#000" stroke="none"/>
<text x="1097.9" y="797.5" font-size="56">3</text>
<text x="1554.1" y="682.8" font-size="56">4</text>
<text x="1989" y="308.5" font-size="56">9</text>
<text x="2633" y="838" font-size="56">7</text>
<text x="663.1" y="1019" font-size="56">2</text>
<text x="1120.1" y="1147.5" font-size="56">5</text>
<text x="413.1" y="1212" font-size="56">X</text>
<text x="619" y="1262" font-size="56">P</text>
<text x="593" y="752.9" font-size="56">00</text>
<text x="1479" y="1027.9" font-size="56">a</text>
<text x="2204" y="1222.2" font-size="56">3</text>
<text x="2725" y="1356.9" font-size="56">4</text>
<text x="2737.9" y="1595" font-size="56">0</text>
<text x="2357.9" y="1784.8" font-size="56">2</text>
<path d="M579.7 712.9 L583.5 712.9 L583.5 752.9 L578 752.9 L578 722.9 L567.9 727.9 L567.9 723.7Z" fill="#000" stroke="none"/>
<path d="M1465.7 987.9 L1469.5 987.9 L1469.5 1027.9 L1464 1027.9 L1464 997.9 L1453.9 1002.9 L1453.9 998.7Z" fill="#000" stroke="none"/>
<path d="M1401.9 1200.8 L1405.7 1200.8 L1405.7 1240.8 L1400.2 1240.8 L1400.2 1210.8 L1390.1 1215.8 L1390.1 1211.6Z" fill="#000" stroke="none"/>
<path d="M2190.4 1182.2 L2194.2 1182.2 L2194.2 1222.2 L2188.7 1222.2 L2188.7 1192.2 L2178.6 1197.2 L2178.6 1193Z" fill="#000" stroke="none"/>
<path d="M2356.7 1209 L2360.5 1209 L2360.5 1249 L2355 1249 L2355 1219 L2344.9 1224 L2344.9 1219.8Z" fill="#000" stroke="none"/>
<path d="M2383.5 1209 L2387.3 1209 L2387.3 1249 L2381.8 1249 L2381.8 1219 L2371.7 1224 L2371.7 1219.8Z" fill="#000" stroke="none"/>
<path d="M2711.7 1316.9 L2715.5 1316.9 L2715.5 1356.9 L2710 1356.9 L2710 1326.9 L2699.9 1331.9 L2699.9 1327.7Z" fill="#000" stroke="none"/>
<path d="M2724.8 1555 L2728.6 1555 L2728.6 1595 L2723.1 1595 L2723.1 1565 L2713 1570 L2713 1565.8Z" fill="#000" stroke="none"/>
<path d="M2345.6 1744.8 L2349.4 1744.8 L2349.4 1784.8 L2343.9 1784.8 L2343.9 1754.8 L2333.8 1759.8 L2333.8 1755.6Z" fill="#000" stroke="none"/>
</g>
</svg>
</body></html>
